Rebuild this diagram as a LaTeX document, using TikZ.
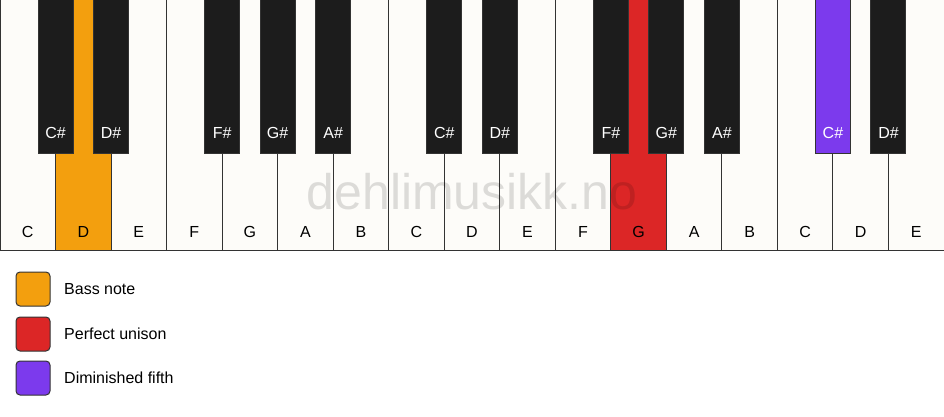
\documentclass[tikz,border=0pt]{standalone}
\usepackage{fontspec}
\setmainfont{Liberation Sans}
\usetikzlibrary{positioning}

\definecolor{ivory}{RGB}{253,252,249}
\definecolor{ebony}{RGB}{28,28,28}
\definecolor{keyline}{RGB}{51,51,51}
\definecolor{bass}{RGB}{243,159,14}
\definecolor{unison}{RGB}{220,38,38}
\definecolor{dimfifth}{RGB}{124,58,237}

\begin{document}
\begin{tikzpicture}
  [ x=1pt, y=-1pt
  , every node/.style={font=\fontsize{16}{19}\selectfont}
  , wlbl/.style={anchor=base, yshift=13pt, text=black}
  , blbl/.style={anchor=base, yshift=14pt, text=white}
  , wkey/.style={draw=keyline, fill=ivory, line width=1pt, shape=rectangle,
                 inner sep=0pt, outer sep=0pt,
                 minimum width=55.53pt, minimum height=250pt,
                 label={[wlbl]south:#1}}
  , bkey/.style={draw=keyline, fill=ebony, line width=1pt, shape=rectangle,
                 inner sep=0pt, outer sep=0pt, anchor=north,
                 minimum width=35pt, minimum height=153pt,
                 label={[blbl]south:#1}}
  , swatch/.style={draw=keyline, line width=1pt, rounded corners=4pt,
                   minimum size=34pt, inner sep=0pt, outer sep=0pt}
  , legend/.style={inner sep=0pt, anchor=west}
  ]

  \useasboundingbox (0,0) rectangle (944,417);

  % white keys
  \node[wkey=C, anchor=north west] (c1) at (0,0) {};
  \node[wkey=D, fill=bass,   right=0pt of c1] (d1) {};
  \node[wkey=E,              right=0pt of d1] (e1) {};
  \node[wkey=F,              right=0pt of e1] (f1) {};
  \node[wkey=G,              right=0pt of f1] (g1) {};
  \node[wkey=A,              right=0pt of g1] (a1) {};
  \node[wkey=B,              right=0pt of a1] (b1) {};
  \node[wkey=C,              right=0pt of b1] (c2) {};
  \node[wkey=D,              right=0pt of c2] (d2) {};
  \node[wkey=E,              right=0pt of d2] (e2) {};
  \node[wkey=F,              right=0pt of e2] (f2) {};
  \node[wkey=G, fill=unison, right=0pt of f2] (g2) {};
  \node[wkey=A,              right=0pt of g2] (a2) {};
  \node[wkey=B,              right=0pt of a2] (b2) {};
  \node[wkey=C,              right=0pt of b2] (c3) {};
  \node[wkey=D,              right=0pt of c3] (d3) {};
  \node[wkey=E,              right=0pt of d3] (e3) {};

  % black keys
  \node[bkey=C\#] (cs1) at (c1.north east) {};
  \node[bkey=D\#] (ds1) at (d1.north east) {};
  \node[bkey=F\#] (fs1) at (f1.north east) {};
  \node[bkey=G\#] (gs1) at (g1.north east) {};
  \node[bkey=A\#] (as1) at (a1.north east) {};
  \node[bkey=C\#] (cs2) at (c2.north east) {};
  \node[bkey=D\#] (ds2) at (d2.north east) {};
  \node[bkey=F\#] (fs2) at (f2.north east) {};
  \node[bkey=G\#] (gs2) at (g2.north east) {};
  \node[bkey=A\#] (as2) at (a2.north east) {};
  \node[bkey=C\#, fill=dimfifth] (cs3) at (c3.north east) {};
  \node[bkey=D\#] (ds3) at (d3.north east) {};

  % watermark
  \node[font=\fontsize{50}{60}\selectfont, text=black, text opacity=0.13,
        anchor=base] (mark) at (472,209) {dehlimusikk.no};

  % legend
  \node[swatch, fill=bass]                     (sw1) at (33,289) {};
  \node[swatch, fill=unison,   below=11pt of sw1] (sw2) {};
  \node[swatch, fill=dimfifth, below=10pt of sw2] (sw3) {};

  \node[legend, right=14pt of sw1] (bassnote) {Bass note};
  \node[legend, right=14pt of sw2] (unisonnote) {Perfect unison};
  \node[legend, right=14pt of sw3] (fifthnote) {Diminished fifth};

\end{tikzpicture}
\end{document}
